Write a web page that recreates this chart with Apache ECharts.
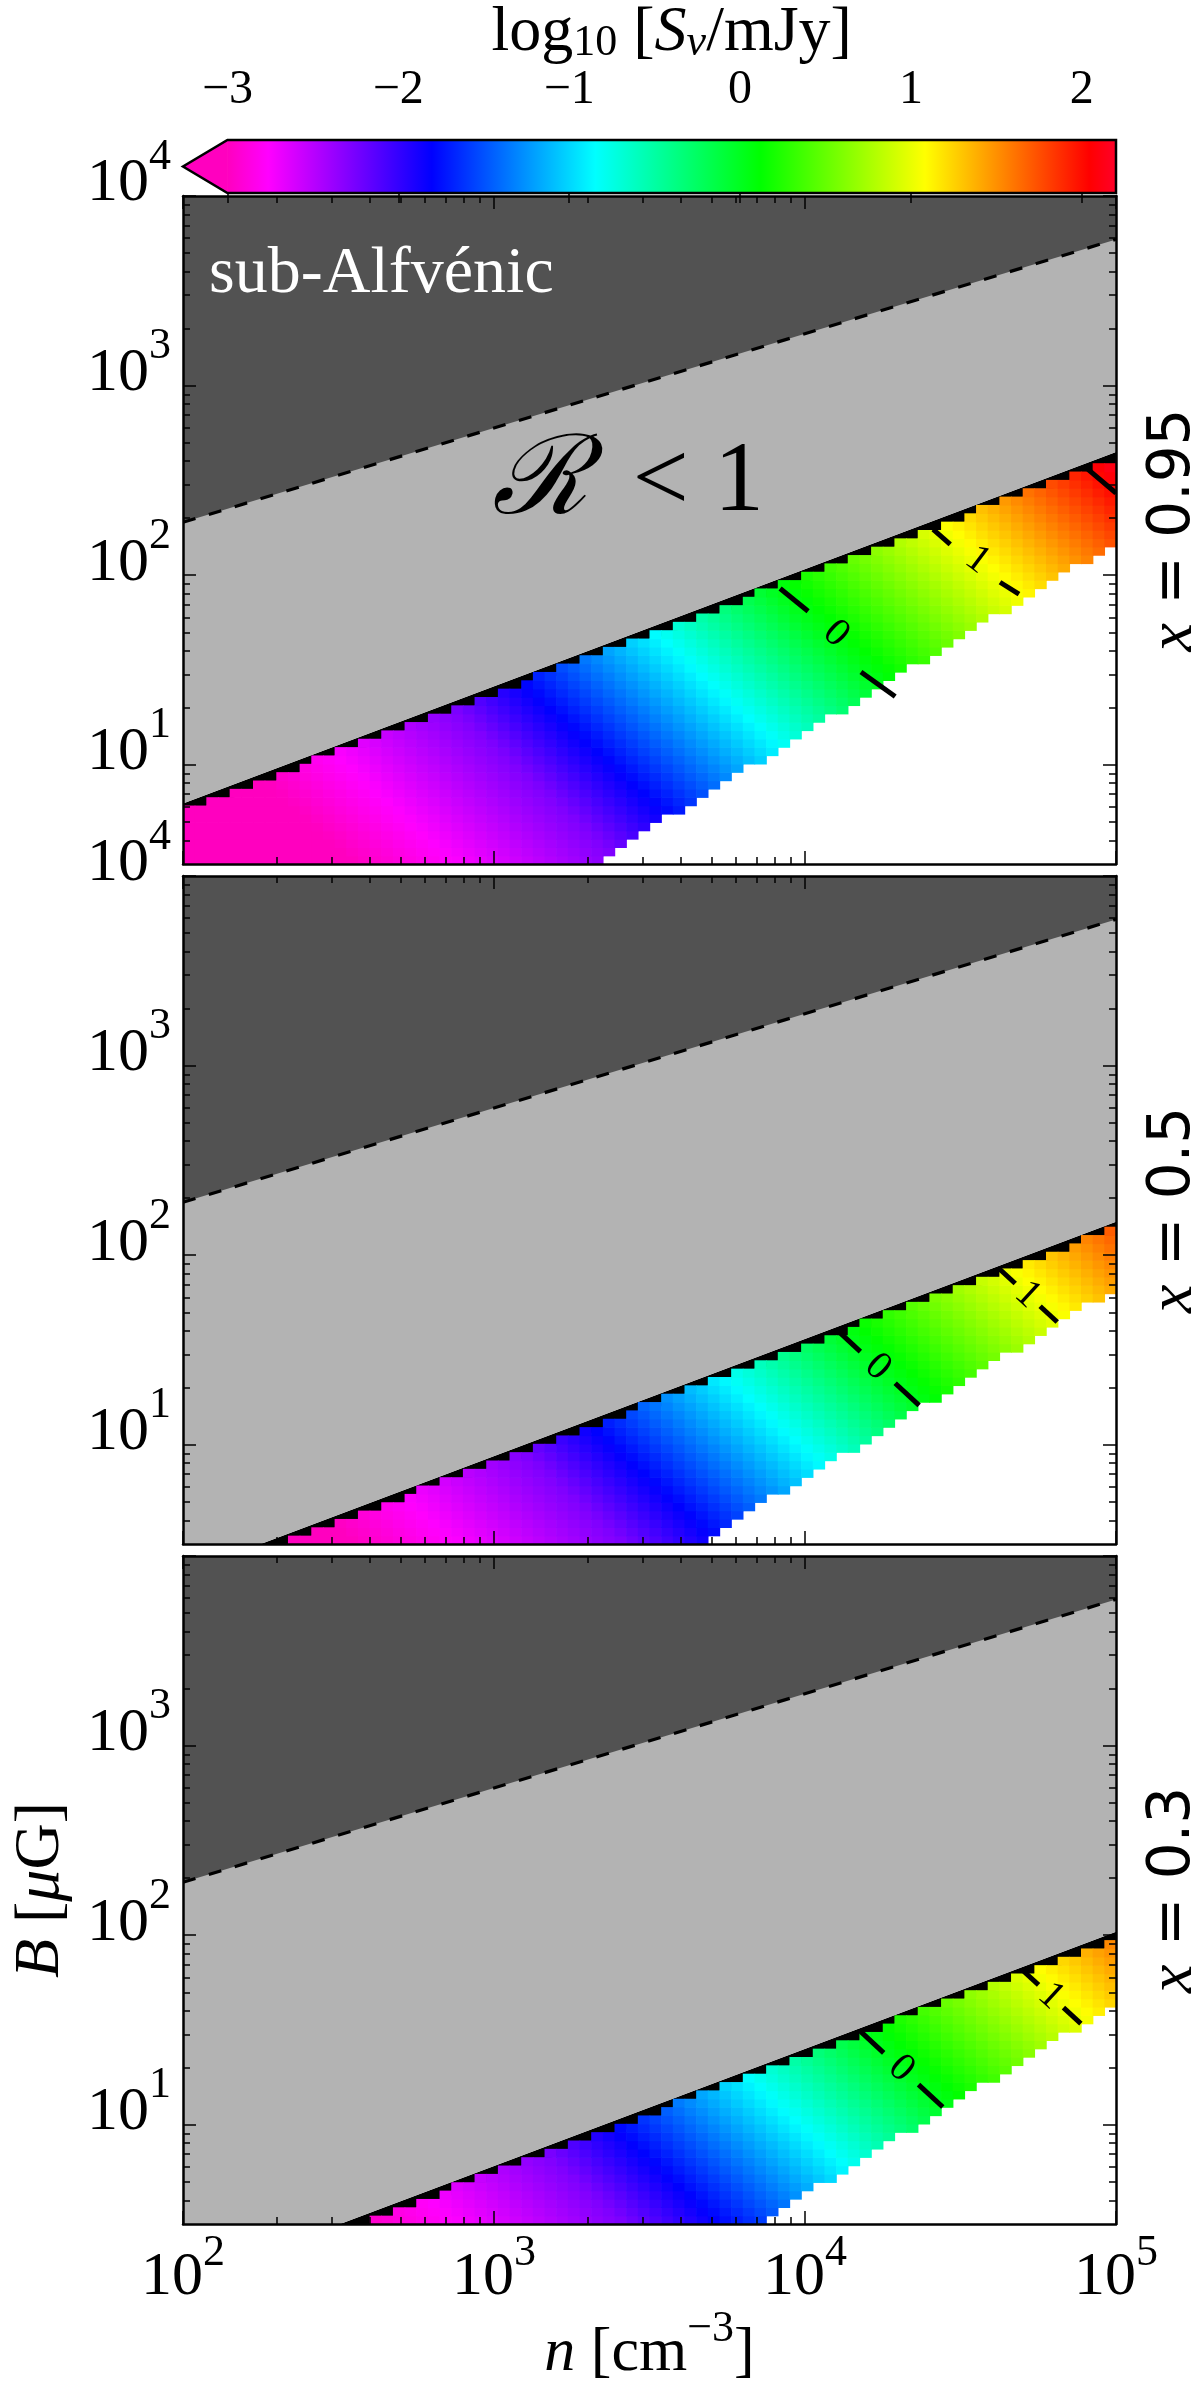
<!DOCTYPE html>
<html>
<head>
<meta charset="utf-8">
<title>S_nu map</title>
<script src="https://cdn.jsdelivr.net/npm/echarts@6.0.0/dist/echarts.min.js"></script>
<style>
  html, body { margin: 0; padding: 0; background: #ffffff; }
  #chart { width: 1200px; height: 2396px; }
</style>
</head>
<body>
<div id="chart"></div>
<script>
// ================= DATA =================
// all positions are [log10(n / cm^-3), log10(B / μG)]
const nLimLog = [2, 5];                    // n: 1e2 .. 1e5
const BLimLog = [Math.log10(3), 4];        // B: 3 .. 1e4
const xTickExp = [2, 3, 4, 5];
const yTickExp = [1, 2, 3, 4];
const yTickShown = [[1, 2, 3, 4], [1, 2, 3, 4], [1, 2, 3]];
const minorMantissa = [2, 3, 4, 5, 6, 7, 8, 9];
const cbTicks = [-3, -2, -1, 0, 1, 2];
const cbLim = [-3, 2.2];
const cbExtendFrac = 0.05;
const panelX = ['0.95', '0.5', '0.3'];
const gridCells = [80, 80];                // pixel cells of the map (n, B)

// sub-Alfvénic boundary (same in every panel)
const alfvenEdge = [[2, 2.279], [5, 3.771]];
// coloured band: upper edge (R = 1) and lower edge, one per panel
const bandTop = [
  [[2, 0.796], [5, 2.650]],
  [[2.25, 0.477], [5, 2.177]],
  [[2.505, 0.477], [5, 2.019]]
];
const bandBottom = [
  [[3.35, 0.511], [5, 2.178]],
  [[3.65, 0.477], [5, 1.827]],
  [[3.84, 0.477], [5, 1.637]]
];
// log10(S_nu/mJy) read at points lying on iso-colour lines, and the iso-line slope
const isoLevel = [-3.3, -3.05, -2.75, -2.28, -1.8, -0.85, 0, 1, 2];
const isoPoint = [[2.0, 0.75], [2.47, 0.5], [2.845, 0.544], [3.0, 1.1], [3.38, 1.0],
                  [3.71, 1.41], [4.18, 1.49], [4.63, 1.92], [4.949, 2.5]];
const isoSlope = -1.5;
// dashed contour pieces and inline labels, per panel
const contours = [
  [
    { text: '0', segs: [[[3.92, 1.93], [4.01, 1.81]], [[4.18, 1.49], [4.29, 1.36]]], label: [4.10, 1.69] },
    { text: '1', segs: [[[4.412, 2.242], [4.467, 2.163]], [[4.627, 1.963], [4.688, 1.90]]], label: [4.555, 2.08] },
    { text: '2', segs: [[[4.91, 2.558], [5.0, 2.433]]], label: null }
  ],
  [
    { text: '0', segs: [[[4.101, 1.609], [4.178, 1.492]], [[4.290, 1.325], [4.367, 1.208]]], label: [4.234, 1.409] },
    { text: '1', segs: [[[4.621, 1.934], [4.676, 1.851]], [[4.756, 1.731], [4.811, 1.648]]], label: [4.716, 1.791] }
  ],
  [
    { text: '0', segs: [[[4.175, 1.498], [4.253, 1.380]], [[4.365, 1.212], [4.443, 1.094]]], label: [4.309, 1.296] },
    { text: '1', segs: [[[4.695, 1.822], [4.751, 1.738]], [[4.831, 1.618], [4.887, 1.534]]], label: [4.791, 1.678] }
  ]
];
// text annotations in panel 1
const annSub = { text: 'sub-Alfvénic', at: [2.084, 3.586] };
const annR = { at: [3.43, 2.48] };

// ================= STYLE / LAYOUT =================
const SERIF = 'Liberation Serif';
const SANS = 'DejaVu Sans';
const DARK = '#525252', LIGHT = '#b3b3b3';
const plotLeft = 183, plotWidth = 933, panelTop = [196, 876, 1556], panelH = 668;
const cbTop = 127, cbH = 66;
const cbLeft = plotLeft + plotWidth * cbExtendFrac / (1 + cbExtendFrac);
const xLabelOffset = 54;      // centre of n tick labels below the axis
const xNameY = 2354;          // centre of the n axis title

// gist_rainbow_r
const cmapStops = [[0, [255, 0, 191]], [0.046, [255, 0, 255]], [0.23, [0, 0, 255]], [0.414, [0, 255, 255]],
                   [0.6, [0, 255, 0]], [0.785, [255, 255, 0]], [0.97, [255, 0, 0]], [1, [255, 0, 41]]];
function cmap(v) {
  let t = (v - cbLim[0]) / (cbLim[1] - cbLim[0]);
  t = Math.max(0, Math.min(1, t));
  let k = 0;
  while (k < cmapStops.length - 2 && t > cmapStops[k + 1][0]) k++;
  const a = cmapStops[k], b = cmapStops[k + 1];
  const f = (t - a[0]) / (b[0] - a[0]);
  const c = a[1].map((x, m) => Math.round(x + f * (b[1][m] - x)));
  return 'rgb(' + c.join(',') + ')';
}

function edgeFn(e) {
  const s = (e[1][1] - e[0][1]) / (e[1][0] - e[0][0]);
  return x => e[0][1] + s * (x - e[0][0]);
}
const isoU = isoPoint.map(p => p[0] - p[1] / isoSlope);
function levelAt(x, y) {
  const u = x - y / isoSlope;
  let k = 0;
  while (k < isoU.length - 2 && u > isoU[k + 1]) k++;
  const t = (u - isoU[k]) / (isoU[k + 1] - isoU[k]);
  return isoLevel[k] + t * (isoLevel[k + 1] - isoLevel[k]);
}
function buildCells(p) {
  const top = edgeFn(bandTop[p]), bot = edgeFn(bandBottom[p]);
  const dx = (nLimLog[1] - nLimLog[0]) / gridCells[0];
  const dy = (BLimLog[1] - BLimLog[0]) / gridCells[1];
  const out = [];
  for (let i = 0; i < gridCells[0]; i++) {
    const xl = nLimLog[0] + i * dx, xr = xl + dx, xc = xl + dx / 2;
    for (let j = 0; j < gridCells[1]; j++) {
      const yb = BLimLog[0] + j * dy, yt = yb + dy, yc = yb + dy / 2;
      if (yt > top(xl) + 1e-6) continue;
      if (yc < bot(xc)) continue;
      out.push([xl, xr, yb, yt, levelAt(xc, yc)]);
    }
  }
  return out;
}

const minorLog = [];
for (let e = 0; e < 4; e++) minorMantissa.forEach(m => minorLog.push(e + Math.log10(m)));
const xMinor = minorLog.filter(v => v > nLimLog[0] && v < nLimLog[1]);
const yMinor = minorLog.filter(v => v > BLimLog[0] + 1e-6 && v < BLimLog[1]);

const tickRich = {
  b: { fontFamily: SERIF, fontSize: 62, color: '#000', lineHeight: 66, verticalAlign: 'bottom', padding: [0, 0, 14, 0] },
  s: { fontFamily: SERIF, fontSize: 44, color: '#000', lineHeight: 44, verticalAlign: 'bottom', padding: [0, 0, 50, 0] }
};
// same look without token paddings (for free-standing text elements)
const tickRichFree = {
  b: { fontFamily: SERIF, fontSize: 62, fill: '#000', lineHeight: 94 },
  s: { fontFamily: SERIF, fontSize: 44, fill: '#000', lineHeight: 44, verticalAlign: 'top' }
};
const expFmt = v => '{b|10}{s|' + Math.round(v) + '}';

const grids = [], xAxes = [], yAxes = [], series = [], graphics = [];
const LINE = { show: true, lineStyle: { color: '#000', width: 2.5 } };

function addX(g, pos, major) {
  xAxes.push({
    gridIndex: g, type: 'value', min: nLimLog[0], max: nLimLog[1], position: pos, z: 10,
    axisLine: major ? LINE : { show: false },
    axisTick: { show: true, inside: true, length: major ? 13 : 7, lineStyle: { color: '#000', width: 1.5 },
                customValues: major ? xTickExp : xMinor },
    axisLabel: { show: false },
    splitLine: { show: false }
  });
  return xAxes.length - 1;
}
function addY(g, pos, major, labels) {
  yAxes.push({
    gridIndex: g, type: 'value', min: BLimLog[0], max: BLimLog[1], position: pos, z: 10,
    axisLine: major ? LINE : { show: false },
    axisTick: { show: true, inside: true, length: major ? 13 : 7, lineStyle: { color: '#000', width: 1.5 },
                customValues: major ? yTickExp : yMinor },
    axisLabel: labels ? { show: true, customValues: labels, formatter: expFmt, rich: tickRich, margin: 12 } : { show: false },
    splitLine: { show: false }
  });
  return yAxes.length - 1;
}

function polySeries(xi, yi, pts, fill, z) {
  return {
    type: 'custom', xAxisIndex: xi, yAxisIndex: yi, clip: true, silent: true, z: z,
    data: [[nLimLog[0], BLimLog[0]]],
    renderItem: (params, api) => ({
      type: 'polygon', shape: { points: pts.map(q => api.coord(q)) }, style: { fill: fill }
    })
  };
}

for (let p = 0; p < 3; p++) {
  grids.push({ left: plotLeft, width: plotWidth, top: panelTop[p], height: panelH });
  const xb = addX(p, 'bottom', true);
  addX(p, 'bottom', false);
  addX(p, 'top', true);
  addX(p, 'top', false);
  const yl = addY(p, 'left', true, yTickShown[p]);
  addY(p, 'left', false, null);
  addY(p, 'right', true, null);
  addY(p, 'right', false, null);
  if (p === 2) {
    yAxes[yl].name = '{i|B}{t| [}{i|μ}{t|G]}';
    yAxes[yl].nameLocation = 'middle';
    yAxes[yl].nameGap = 110;
    yAxes[yl].nameRotate = 90;
    yAxes[yl].nameTextStyle = { rich: {
      i: { fontFamily: SERIF, fontStyle: 'italic', fontSize: 64, color: '#000' },
      t: { fontFamily: SERIF, fontSize: 64, color: '#000' } } };
    // n tick labels under the bottom panel, placed on the n axis
    series.push({
      type: 'custom', xAxisIndex: xb, yAxisIndex: yl, clip: false, silent: true, z: 8,
      data: xTickExp.map(e => [e, BLimLog[0]]),
      renderItem: (params, api) => {
        const c = api.coord([api.value(0), api.value(1)]);
        return { type: 'text', x: c[0], y: c[1] + xLabelOffset,
                 style: { text: expFmt(api.value(0)), rich: tickRichFree, align: 'center', verticalAlign: 'middle' } };
      }
    });
  }

  const top = edgeFn(bandTop[p]), alf = edgeFn(alfvenEdge);
  const X0 = nLimLog[0], X1 = nLimLog[1], Y1 = BLimLog[1];
  // black slivers just under the R = 1 edge (visible between the pixel steps)
  series.push(polySeries(xb, yl, [[X0, top(X0)], [X1, top(X1)], [X1, top(X1) - 0.07], [X0, top(X0) - 0.07]], '#000', 1));
  // coloured pixel map
  series.push({
    type: 'custom', xAxisIndex: xb, yAxisIndex: yl, clip: true, silent: true, z: 2,
    dimensions: ['x0', 'x1', 'y0', 'y1', 'v'],
    encode: { x: [0, 1], y: [2, 3] },
    data: buildCells(p),
    renderItem: (params, api) => {
      const a = api.coord([api.value(0), api.value(3)]);
      const b = api.coord([api.value(1), api.value(2)]);
      return { type: 'rect', shape: { x: a[0], y: a[1], width: b[0] - a[0] + 0.7, height: b[1] - a[1] + 0.7 },
               style: { fill: cmap(api.value(4)) } };
    }
  });
  // R < 1 region (light grey) and sub-Alfvénic region (dark grey)
  series.push(polySeries(xb, yl, [[X0, top(X0)], [X1, top(X1)], [X1, Y1], [X0, Y1]], LIGHT, 3));
  series.push(polySeries(xb, yl, [[X0, alf(X0)], [X1, alf(X1)], [X1, Y1], [X0, Y1]], DARK, 4));
  // boundary of the sub-Alfvénic region
  series.push({
    type: 'custom', xAxisIndex: xb, yAxisIndex: yl, clip: true, silent: true, z: 5,
    data: [[X0, BLimLog[0]]],
    renderItem: (params, api) => ({
      type: 'polyline', shape: { points: alfvenEdge.map(q => api.coord(q)) },
      style: { stroke: '#000', lineWidth: 3.2, lineDash: [13, 14], fill: null }
    })
  });
  // dashed contours with labels
  const segData = [];
  contours[p].forEach(c => c.segs.forEach(s => segData.push([s[0][0], s[0][1], s[1][0], s[1][1]])));
  series.push({
    type: 'custom', xAxisIndex: xb, yAxisIndex: yl, clip: true, silent: true, z: 6,
    data: segData,
    renderItem: (params, api) => {
      const a = api.coord([api.value(0), api.value(1)]), b = api.coord([api.value(2), api.value(3)]);
      return { type: 'line', shape: { x1: a[0], y1: a[1], x2: b[0], y2: b[1] },
               style: { stroke: '#000', lineWidth: 5, lineCap: 'butt' } };
    }
  });
  const labList = contours[p].filter(c => c.label);
  const labData = labList.map(c => [c.label[0], c.label[1],
      c.segs[0][0][0], c.segs[0][0][1], c.segs[c.segs.length - 1][1][0], c.segs[c.segs.length - 1][1][1]]);
  series.push({
    type: 'custom', xAxisIndex: xb, yAxisIndex: yl, clip: true, silent: true, z: 6,
    data: labData,
    renderItem: (params, api) => {
      const c = api.coord([api.value(0), api.value(1)]);
      const a = api.coord([api.value(2), api.value(3)]), b = api.coord([api.value(4), api.value(5)]);
      const ang = Math.atan2(b[1] - a[1], b[0] - a[0]);
      return { type: 'text', x: c[0], y: c[1], rotation: -ang,
               style: { text: labList[params.dataIndex].text, fontFamily: SERIF, fontSize: 40, fill: '#000',
                        align: 'center', verticalAlign: 'middle' } };
    }
  });
  if (p === 0) {
    series.push({
      type: 'custom', xAxisIndex: xb, yAxisIndex: yl, clip: false, silent: true, z: 7,
      data: [[annSub.at[0], annSub.at[1]], [annR.at[0], annR.at[1]]],
      renderItem: (params, api) => {
        const c = api.coord([api.value(0), api.value(1)]);
        if (params.dataIndex === 0) {
          return { type: 'text', x: c[0], y: c[1],
                   style: { text: annSub.text, fontFamily: SERIF, fontSize: 66, fill: '#fff',
                            align: 'left', verticalAlign: 'middle' } };
        }
        return { type: 'text', x: c[0], y: c[1],
                 style: { text: '{r|ℛ}{t|\u2009 < 1}', align: 'center', verticalAlign: 'middle',
                          rich: { r: { fontFamily: 'DejaVu Serif', fontStyle: 'italic', fontSize: 110, fill: '#000' },
                                  t: { fontFamily: SERIF, fontSize: 100, fill: '#000' } } } };
      }
    });
  }
  // right-hand panel labels
  graphics.push({
    type: 'text', x: 1174, y: panelTop[p] + panelH / 2, rotation: Math.PI / 2,
    style: { text: '{i|x}{t| = ' + panelX[p] + '}', align: 'center', verticalAlign: 'middle',
             rich: { i: { fontFamily: SERIF, fontStyle: 'italic', fontSize: 64, fill: '#000' },
                     t: { fontFamily: SANS, fontSize: 58, fill: '#000' } } }
  });
}

// n axis title
graphics.push({
  type: 'text', x: plotLeft + plotWidth / 2, y: xNameY,
  style: { text: '{i|n}{t| [cm}{s|−3}{t|]}', align: 'center', verticalAlign: 'middle',
           rich: { i: { fontFamily: SERIF, fontStyle: 'italic', fontSize: 62, fill: '#000', lineHeight: 94 },
                   t: { fontFamily: SERIF, fontSize: 62, fill: '#000', lineHeight: 94 },
                   s: { fontFamily: SERIF, fontSize: 44, fill: '#000', lineHeight: 44, verticalAlign: 'top' } } }
});

// colour bar
grids.push({ left: cbLeft, width: plotLeft + plotWidth - cbLeft, top: cbTop, height: cbH });
const cbGrid = grids.length - 1;
xAxes.push({
  gridIndex: cbGrid, type: 'value', min: cbLim[0], max: cbLim[1], interval: 1, position: 'top', z: 10,
  axisLine: { show: false },
  axisTick: { show: true, inside: true, length: 10, lineStyle: { color: '#000', width: 1.5 }, customValues: cbTicks },
  axisLabel: { show: true, customValues: cbTicks, margin: 26, fontFamily: SERIF, fontSize: 48, color: '#000',
               formatter: v => (v < 0 ? '−' + Math.abs(v) : String(v)) },
  splitLine: { show: false },
  name: '{t|log}{u|10}{t| [}{i|S}{v|ν}{t|/mJy]}', nameLocation: 'middle', nameGap: 64,
  nameTextStyle: { rich: {
    t: { fontFamily: SERIF, fontSize: 64, color: '#000', lineHeight: 72, verticalAlign: 'bottom' },
    i: { fontFamily: SERIF, fontStyle: 'italic', fontSize: 64, color: '#000', lineHeight: 72, verticalAlign: 'bottom' },
    u: { fontFamily: SERIF, fontSize: 44, color: '#000', lineHeight: 44, verticalAlign: 'bottom' },
    v: { fontFamily: SERIF, fontStyle: 'italic', fontSize: 44, color: '#000', lineHeight: 44, verticalAlign: 'bottom' } } }
});
const cbX = xAxes.length - 1;
yAxes.push({ gridIndex: cbGrid, type: 'value', min: 0, max: 1, show: false });
const cbY = yAxes.length - 1;
const cbGradient = new echarts.graphic.LinearGradient(0, 0, 1, 0,
  cmapStops.map(s => ({ offset: s[0], color: 'rgb(' + s[1].join(',') + ')' })));
series.push({
  type: 'custom', xAxisIndex: cbX, yAxisIndex: cbY, clip: false, silent: true, z: 2,
  data: [[cbLim[0], 0]],
  renderItem: (params, api) => {
    const a = api.coord([cbLim[0], 0]), b = api.coord([cbLim[1], 1]);
    const tip = api.coord([cbLim[0] - cbExtendFrac * (cbLim[1] - cbLim[0]), 0.5]);
    const x0 = a[0], x1 = b[0], yB = a[1], yT = b[1];
    return { type: 'group', children: [
      { type: 'rect', shape: { x: x0, y: yT, width: x1 - x0, height: yB - yT }, style: { fill: cbGradient } },
      { type: 'polygon', shape: { points: [[x0 + 0.5, yT], tip, [x0 + 0.5, yB]] }, style: { fill: cmap(cbLim[0] - 1) } },
      { type: 'polygon', shape: { points: [[x0, yT], [x1, yT], [x1, yB], [x0, yB], tip] },
        style: { fill: null, stroke: '#000', lineWidth: 2.5 } }
    ] };
  }
});

const chart = echarts.init(document.getElementById('chart'), null, { renderer: 'canvas' });
chart.setOption({
  backgroundColor: '#ffffff',
  animation: false,
  grid: grids,
  xAxis: xAxes,
  yAxis: yAxes,
  series: series,
  graphic: graphics
});
</script>
</body>
</html>
